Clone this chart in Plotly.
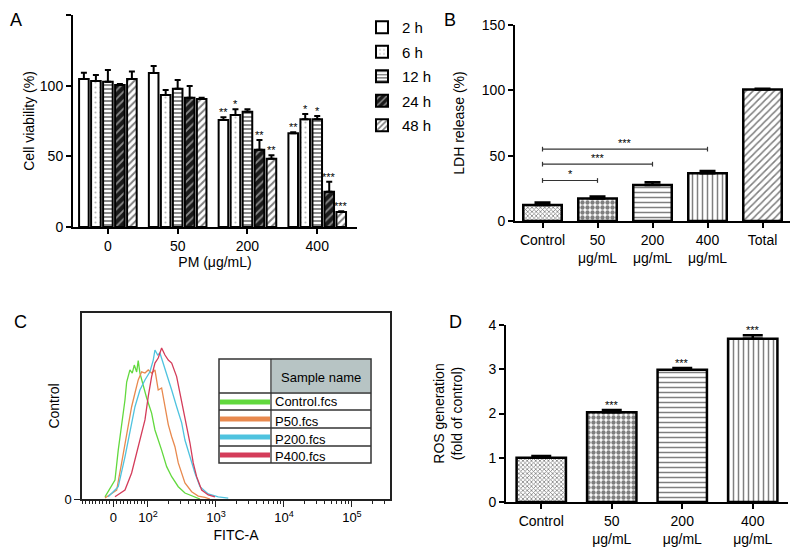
import plotly.graph_objects as go
import numpy as np

FONT = "Liberation Sans, Arial, sans-serif"

# ---- Panel A: cell viability ----
doses = ["0", "50", "200", "400"]
hours = ["2 h", "6 h", "12 h", "24 h", "48 h"]
via_2h = [104.7, 109.0, 75.7, 66.3]
via_6h = [103.3, 93.4, 79.2, 76.2]
via_12h = [102.8, 97.9, 81.6, 76.2]
via_24h = [100.4, 91.5, 54.7, 25.0]
via_48h = [104.7, 90.6, 48.3, 10.6]
err_2h = [4.5, 5.0, 1.9, 0.8]
err_6h = [4.2, 3.6, 4.1, 3.8]
err_12h = [8.2, 6.1, 1.7, 2.3]
err_24h = [0.8, 8.3, 6.9, 7.0]
err_48h = [5.3, 0.9, 2.4, 0.5]
sig_2h = ["", "", "**", "**"]
sig_6h = ["", "", "*", "*"]
sig_12h = ["", "", "", "*"]
sig_24h = ["", "", "**", "***"]
sig_48h = ["", "", "**", "***"]

# ---- Panel B: LDH release ----
ldh_labels = ["Control", "50<br>μg/mL", "200<br>μg/mL", "400<br>μg/mL", "Total"]
ldh_vals = [12.2, 17.3, 27.5, 36.5, 100.6]
ldh_err = [2.0, 1.4, 2.1, 1.8, 0.6]
bracket_to = [1, 2, 3]
bracket_y = [31, 43.5, 55]
bracket_sig = ["*", "***", "***"]

# ---- Panel C: flow cytometry histograms (display units, decades) ----
ctrl_x = [1.368, 1.515, 1.563, 1.613, 1.662, 1.687, 1.735, 1.769, 1.799, 1.834, 1.857, 1.882,
          1.931, 1.981, 2.054, 2.103, 2.201, 2.275, 2.349, 2.446, 2.544, 2.691, 2.765]
ctrl_y = [1.1, 10.2, 26.3, 38.7, 53.2, 62.9, 69.4, 67.7, 72.0, 68.3, 74.4, 67.7,
          60.4, 54.3, 46.2, 37.1, 26.3, 17.4, 12.0, 6.6, 3.2, 1.2, 0]
p50_x = [1.368, 1.540, 1.613, 1.662, 1.710, 1.760, 1.809, 1.857, 1.907, 1.956, 2.004, 2.054,
         2.103, 2.128, 2.151, 2.201, 2.250, 2.299, 2.349, 2.397, 2.446, 2.496, 2.544, 2.643,
         2.740, 2.838, 2.912]
p50_y = [0.5, 4.8, 19.4, 30.1, 38.9, 49.6, 57.0, 64.0, 68.4, 67.7, 69.4, 67.7,
         69.4, 64.0, 58.6, 59.7, 49.6, 40.0, 33.5, 28.1, 19.4, 14.0, 8.6, 3.9,
         1.6, 0.9, 0]
p200_x = [1.416, 1.563, 1.662, 1.710, 1.760, 1.809, 1.882, 1.956, 2.029, 2.078, 2.103, 2.143,
          2.176, 2.225, 2.275, 2.324, 2.349, 2.422, 2.496, 2.544, 2.618, 2.691, 2.765, 2.887,
          3.034, 3.181]
p200_y = [1.2, 6.6, 22.7, 31.7, 40.9, 49.6, 58.6, 64.0, 68.4, 74.7, 80.1, 77.4,
          78.5, 73.1, 67.7, 62.4, 58.6, 49.6, 40.9, 31.7, 22.7, 14.0, 6.6, 2.7,
          1.2, 0.5]
p400_x = [1.515, 1.662, 1.760, 1.809, 1.882, 1.956, 2.004, 2.054, 2.103, 2.151, 2.201, 2.250,
          2.299, 2.349, 2.422, 2.471, 2.519, 2.569, 2.618, 2.666, 2.716, 2.790, 2.887, 2.985]
p400_y = [1.2, 4.8, 14.0, 21.0, 31.7, 42.5, 55.0, 65.8, 73.1, 75.8, 81.2, 77.4,
          74.7, 73.1, 65.8, 57.0, 47.8, 38.9, 30.1, 19.4, 12.0, 4.8, 2.2, 1.2]
samples = ["Control.fcs", "P50.fcs", "P200.fcs", "P400.fcs"]
fitc_tickvals = [1.49, 2, 3, 4, 5]
fitc_ticktext = ["0", "10<sup>2</sup>", "10<sup>3</sup>", "10<sup>4</sup>", "10<sup>5</sup>"]

# ---- Panel D: ROS generation ----
ros_labels = ["Control", "50<br>μg/mL", "200<br>μg/mL", "400<br>μg/mL"]
ros_vals = [1.0, 2.03, 2.99, 3.69]
ros_err = [0.04, 0.05, 0.04, 0.08]
ros_sig = ["", "***", "***", "***"]

# the page body has an 8px margin, so lay out in window pixels minus that offset
W, H, OFF = 790, 547, 8


def fx(px):
    return (px - OFF) / W


def fy(py):
    return 1 - (py - OFF) / H


fig = go.Figure()

# Panel A bars
a_series = [via_2h, via_6h, via_12h, via_24h, via_48h]
a_errs = [err_2h, err_6h, err_12h, err_24h, err_48h]
a_sigs = [sig_2h, sig_6h, sig_12h, sig_24h, sig_48h]
a_colors = ["white", "white", "white", "#1a1a1a", "white"]
a_patterns = [
    dict(shape=""),
    dict(shape=".", fgcolor="#777", size=5, solidity=0.15),
    dict(shape="-", fgcolor="black", size=4, solidity=0.45),
    dict(shape="/", fgcolor="white", size=6, solidity=0.3),
    dict(shape="/", fgcolor="black", size=5, solidity=0.4),
]
for i, h in enumerate(hours):
    fig.add_trace(go.Bar(
        x=doses, y=a_series[i], name=h, legendgroup=h,
        marker=dict(color=a_colors[i], line=dict(color="black", width=2),
                    pattern=a_patterns[i]),
        error_y=dict(type="data", symmetric=False, array=a_errs[i],
                     arrayminus=[0] * len(doses), color="black", thickness=2, width=3),
        xaxis="x", yaxis="y",
    ))

BARGAP = 0.14
slot = (1 - BARGAP) / len(hours)
annotations = []
for i in range(len(hours)):
    for j, s in enumerate(a_sigs[i]):
        if s:
            annotations.append(dict(
                x=j + (i - 2) * slot, y=a_series[i][j] + a_errs[i][j], xref="x", yref="y",
                text=s, showarrow=False, yanchor="bottom", yshift=-3,
                font=dict(size=11, color="black", family=FONT)))

# Panel B bars
fig.add_trace(go.Bar(
    x=ldh_labels, y=ldh_vals, width=0.7, showlegend=False,
    marker=dict(color="white", line=dict(color="black", width=2.5),
                pattern=dict(shape=["x", ".", "-", "|", "/"], size=[3, 5, 5, 5, 5],
                             solidity=[0.45, 0.6, 0.3, 0.3, 0.3], fgcolor="black")),
    error_y=dict(type="data", symmetric=False, array=ldh_err, arrayminus=[0] * 5,
                 color="black", thickness=2.5, width=8),
    xaxis="x2", yaxis="y2",
))
for k, j in enumerate(bracket_to):
    yb = bracket_y[k]
    fig.add_trace(go.Scatter(
        x=[ldh_labels[0], ldh_labels[0], None, ldh_labels[0], ldh_labels[j], None,
           ldh_labels[j], ldh_labels[j]],
        y=[yb - 1.8, yb + 1.8, None, yb, yb, None, yb - 1.8, yb + 1.8],
        mode="lines", line=dict(color="#333", width=1.2), showlegend=False,
        hoverinfo="skip", xaxis="x2", yaxis="y2"))
    annotations.append(dict(
        x=j / 2, y=yb, xref="x2", yref="y2", text=bracket_sig[k], showarrow=False,
        yanchor="bottom", yshift=-2, font=dict(size=11, color="black", family=FONT)))

# Panel C histograms
c_colors = ["#62d93e", "#e8894e", "#4fc3df", "#d43c5a"]
c_xs = [ctrl_x, p50_x, p200_x, p400_x]
c_ys = [ctrl_y, p50_y, p200_y, p400_y]
for i in range(4):
    fig.add_trace(go.Scatter(
        x=c_xs[i], y=c_ys[i], mode="lines", name=samples[i], showlegend=False,
        line=dict(color=c_colors[i], width=1.3), xaxis="x3", yaxis="y3"))

# Panel D bars
fig.add_trace(go.Bar(
    x=ros_labels, y=ros_vals, width=0.7, showlegend=False,
    marker=dict(color="white", line=dict(color="black", width=2.5),
                pattern=dict(shape=["x", ".", "-", "|"], size=[3, 5, 5, 5],
                             solidity=[0.45, 0.6, 0.3, 0.3], fgcolor="black")),
    error_y=dict(type="data", symmetric=False, array=ros_err, arrayminus=[0] * 4,
                 color="black", thickness=2.5, width=10),
    xaxis="x4", yaxis="y4",
))
for j, s in enumerate(ros_sig):
    if s:
        annotations.append(dict(
            x=j, y=ros_vals[j] + ros_err[j], xref="x4", yref="y4", text=s,
            showarrow=False, yanchor="bottom", yshift=-3,
            font=dict(size=11, color="black", family=FONT)))

# Panel letters
for txt, px, py in [("A", 8, 8), ("B", 442, 8), ("C", 12, 310), ("D", 447, 310)]:
    annotations.append(dict(x=fx(px), y=fy(py), xref="paper", yref="paper",
                            text=txt, showarrow=False, xanchor="left", yanchor="top",
                            font=dict(size=18, color="black", family=FONT)))

# Legend table for panel C
shapes = []
shapes.append(dict(type="rect", xref="paper", yref="paper", x0=fx(271), x1=fx(371),
                   y0=fy(393), y1=fy(359), fillcolor="#b7c4c4",
                   line=dict(color="#e6eded", width=2), layer="above"))
shapes.append(dict(type="rect", xref="paper", yref="paper", x0=fx(219), x1=fx(371),
                   y0=fy(463), y1=fy(359), line=dict(color="#333", width=1.5),
                   layer="above"))
for yy in [393, 410, 428, 446]:
    shapes.append(dict(type="line", xref="paper", yref="paper", x0=fx(219), x1=fx(371),
                       y0=fy(yy), y1=fy(yy), line=dict(color="#333", width=1.3),
                       layer="above"))
shapes.append(dict(type="line", xref="paper", yref="paper", x0=fx(271), x1=fx(271),
                   y0=fy(463), y1=fy(359), line=dict(color="#333", width=1.3),
                   layer="above"))
row_y = [402, 419, 437, 455]
text_y = [401, 421, 439, 456]
for i in range(4):
    shapes.append(dict(type="line", xref="paper", yref="paper", x0=fx(220), x1=fx(270),
                       y0=fy(row_y[i]), y1=fy(row_y[i]),
                       line=dict(color=c_colors[i], width=5), layer="above"))
    annotations.append(dict(x=fx(273), y=fy(text_y[i]), xref="paper", yref="paper",
                            text=samples[i], showarrow=False, xanchor="left",
                            yanchor="middle", font=dict(size=13, color="black", family=FONT)))
annotations.append(dict(x=fx(279), y=fy(377), xref="paper", yref="paper",
                        text="Sample name", showarrow=False, xanchor="left",
                        yanchor="middle", font=dict(size=13, color="black", family=FONT)))

axis_style = dict(showline=True, linecolor="black", linewidth=2, ticks="outside",
                  ticklen=5, tickwidth=2, tickcolor="black", showgrid=False,
                  zeroline=False, tickfont=dict(size=14, color="black", family=FONT))

minor_c = []
for v in list(range(-90, 0, 10)) + list(range(10, 100, 10)):
    minor_c.append(1.49 + v * 0.0051)
for d in [2, 3, 4, 5]:
    for k in range(2, 10):
        if d + np.log10(k) < 5.55:
            minor_c.append(d + np.log10(k))

fig.update_layout(
    width=W, height=H, margin=dict(l=0, r=0, t=0, b=0, autoexpand=False),
    plot_bgcolor="white", paper_bgcolor="white",
    font=dict(family=FONT, color="black"),
    barmode="group", bargap=BARGAP, bargroupgap=0.2,
    showlegend=True,
    legend=dict(x=fx(362), y=fy(11), xanchor="left", yanchor="top",
                bgcolor="rgba(0,0,0,0)", font=dict(size=15, family=FONT),
                tracegroupgap=2),
    xaxis=dict(axis_style, domain=[fx(73), fx(357)], range=[-0.5, 3.57],
               anchor="y", title=dict(text="PM (μg/mL)", font=dict(size=14), standoff=2)),
    yaxis=dict(axis_style, domain=[fy(227), fy(15)], range=[0, 150], dtick=50,
               anchor="x", title=dict(text="Cell viability (%)", font=dict(size=14),
                                      standoff=2)),
    xaxis2=dict(axis_style, domain=[fx(515), fx(790)], range=[-0.5, 4.5], anchor="y2"),
    yaxis2=dict(axis_style, domain=[fy(221), fy(25)], range=[0, 150], dtick=50,
                anchor="x2", title=dict(text="LDH release (%)", font=dict(size=14),
                                        standoff=14)),
    xaxis3=dict(showline=True, mirror=True, linecolor="#222", linewidth=1.5,
                domain=[fx(82), fx(390)], range=[1.03, 5.56], anchor="y3",
                showgrid=False, zeroline=False, tickmode="array",
                tickvals=fitc_tickvals, ticktext=fitc_ticktext, ticks="outside",
                ticklen=6, tickwidth=1.2, tickcolor="#222",
                minor=dict(tickmode="array", tickvals=minor_c, ticks="outside",
                           ticklen=3, tickwidth=1, tickcolor="#222"),
                tickfont=dict(size=13, family=FONT, color="black"),
                title=dict(text="FITC-A", font=dict(size=14), standoff=6)),
    yaxis3=dict(showline=True, mirror=True, linecolor="#222", linewidth=1.5,
                domain=[fy(499), fy(313)], range=[0, 100], anchor="x3",
                showgrid=False, zeroline=False, tickmode="array", tickvals=[0],
                ticktext=["0"], ticks="outside", ticklen=6, tickwidth=1.2,
                tickcolor="#222", tickfont=dict(size=13, family=FONT, color="black"),
                title=dict(text="Control", font=dict(size=14), standoff=2)),
    xaxis4=dict(axis_style, domain=[fx(506), fx(788)], range=[-0.5, 3.5], anchor="y4"),
    yaxis4=dict(axis_style, domain=[fy(502), fy(325)], range=[0, 4], dtick=1,
                anchor="x4", title=dict(text="ROS generation<br>(fold of control)",
                                        font=dict(size=14), standoff=22)),
    annotations=annotations,
    shapes=shapes,
)

fig.write_html("out.html")
